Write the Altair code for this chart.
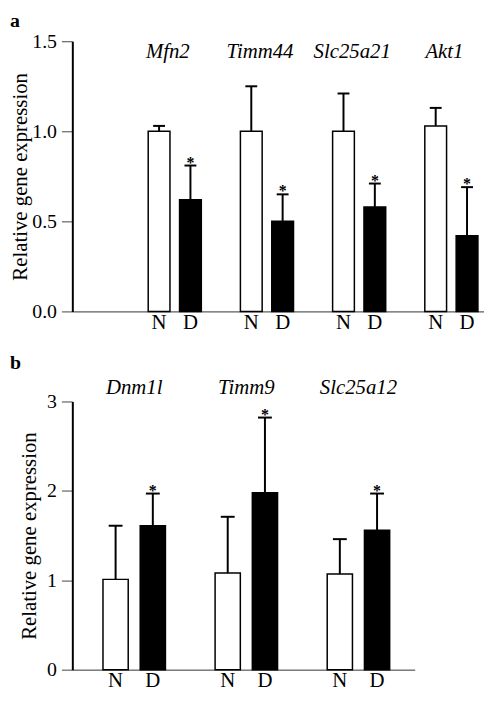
import altair as alt
import pandas as pd

FONT = "Liberation Serif"
TITLE = "Relative gene expression"

# Panel a
genes_a = ["Mfn2", "Timm44", "Slc25a21", "Akt1"]
n_mean_a = [1.00, 1.00, 1.00, 1.03]
n_err_a = [0.03, 0.25, 0.21, 0.10]
d_mean_a = [0.62, 0.50, 0.58, 0.42]
d_err_a = [0.19, 0.15, 0.13, 0.27]
yticks_a = [0.0, 0.5, 1.0, 1.5]

# Panel b
genes_b = ["Dnm1l", "Timm9", "Slc25a12"]
n_mean_b = [1.01, 1.08, 1.07]
n_err_b = [0.60, 0.63, 0.39]
d_mean_b = [1.61, 1.98, 1.56]
d_err_b = [0.36, 0.84, 0.41]
yticks_b = [0, 1, 2, 3]

conditions = ["N", "D"]


def table(genes, nm, ne, dm, de):
    rows = []
    for i, g in enumerate(genes):
        rows.append(dict(gene=g, pos=i + 1, cond="N", mean=nm[i], err=ne[i], sig=False))
        rows.append(dict(gene=g, pos=i + 1, cond="D", mean=dm[i], err=de[i], sig=True))
    return pd.DataFrame(rows)


def panel(df, letter, ydom, yticks, yfmt, xdom, width, H, off, hw, cap,
          gene_y, gene_dx, title_pad, letter_y):
    yaxis = alt.Axis(values=yticks, format=yfmt, grid=False, tickSize=11, tickWidth=1,
                     tickColor="#444", labelPadding=5, domainWidth=2, domainColor="black",
                     titlePadding=title_pad, labelFontSize=20, titleFontSize=21,
                     labelFont=FONT, titleFont=FONT, titleFontWeight="normal",
                     labelColor="black", titleColor="black")
    xaxis = alt.Axis(labels=False, ticks=False, grid=False, domainColor="#333", domainWidth=1)
    yscale = alt.Scale(domain=ydom, nice=False, zero=True)
    xscale = alt.Scale(domain=xdom, nice=False, zero=False)

    def X(f):
        return alt.X(f, type="quantitative", scale=xscale, axis=xaxis, title=None)

    def Y(f):
        return alt.Y(f, type="quantitative", scale=yscale, axis=yaxis, title=TITLE)

    base = (alt.Chart(df)
            .transform_calculate(xc=f"datum.pos + (datum.cond == 'N' ? {-off} : {off})")
            .transform_calculate(upper="datum.mean + datum.err")
            .transform_calculate(xl=f"datum.xc - {hw}")
            .transform_calculate(xr=f"datum.xc + {hw}"))

    bars = base.mark_rect(stroke="black", strokeWidth=1.5).encode(
        x=X("xl"), x2="xr", y=Y("mean"), y2=alt.datum(0),
        fill=alt.Fill("cond:N", scale=alt.Scale(domain=conditions, range=["white", "black"]),
                      legend=None))
    err = base.mark_rule(color="black", strokeWidth=2).encode(
        x=X("xc"), y=Y("mean"), y2="upper")
    caps = base.mark_tick(orient="horizontal", color="black", thickness=2, size=cap,
                          opacity=1).encode(x=X("xc"), y=Y("upper"))
    ast = base.transform_filter("datum.sig").mark_text(
        text="*", font=FONT, fontSize=16, fontWeight="bold", baseline="alphabetic", dy=2,
        color="black").encode(x=X("xc"), y=Y("upper"))
    nd = base.mark_text(font=FONT, fontSize=21, baseline="middle", color="black").encode(
        x=X("xc"), y=alt.value(H + 12), text="cond:N")
    gl = base.transform_filter("datum.cond == 'N'").mark_text(
        font=FONT, fontSize=21, fontStyle="italic", baseline="middle", dx=gene_dx,
        color="black").encode(x=X("pos"), y=alt.value(gene_y), text="gene:N")
    lt = alt.Chart(alt.Data(values=[{"t": letter}])).mark_text(
        font=FONT, fontSize=20, fontWeight="bold", align="left", baseline="middle",
        color="black").encode(x=alt.value(-63), y=alt.value(letter_y), text="t:N")
    return alt.layer(bars, err, caps, ast, nd, gl, lt).properties(width=width, height=H)


pa = panel(table(genes_a, n_mean_a, n_err_a, d_mean_a, d_err_a), "a", [0, 1.5], yticks_a,
           ".1f", [-0.111, 4.354], 416, 273, 0.17, 0.118, 12, 11, -7, 1, -20)
pb = panel(table(genes_b, n_mean_b, n_err_b, d_mean_b, d_err_b), "b", [0, 3], yticks_b,
           "d", [0.448, 3.502], 346, 271, 0.166, 0.1125, 14, -14, 0, 7, -39)

chart = alt.vconcat(pa, pb, spacing=20,
                    padding={"left": 2, "top": 0, "right": 0, "bottom": 0}
                    ).configure_view(stroke=None)
chart.save("out.html", embed_options={"renderer": "svg", "actions": False})
